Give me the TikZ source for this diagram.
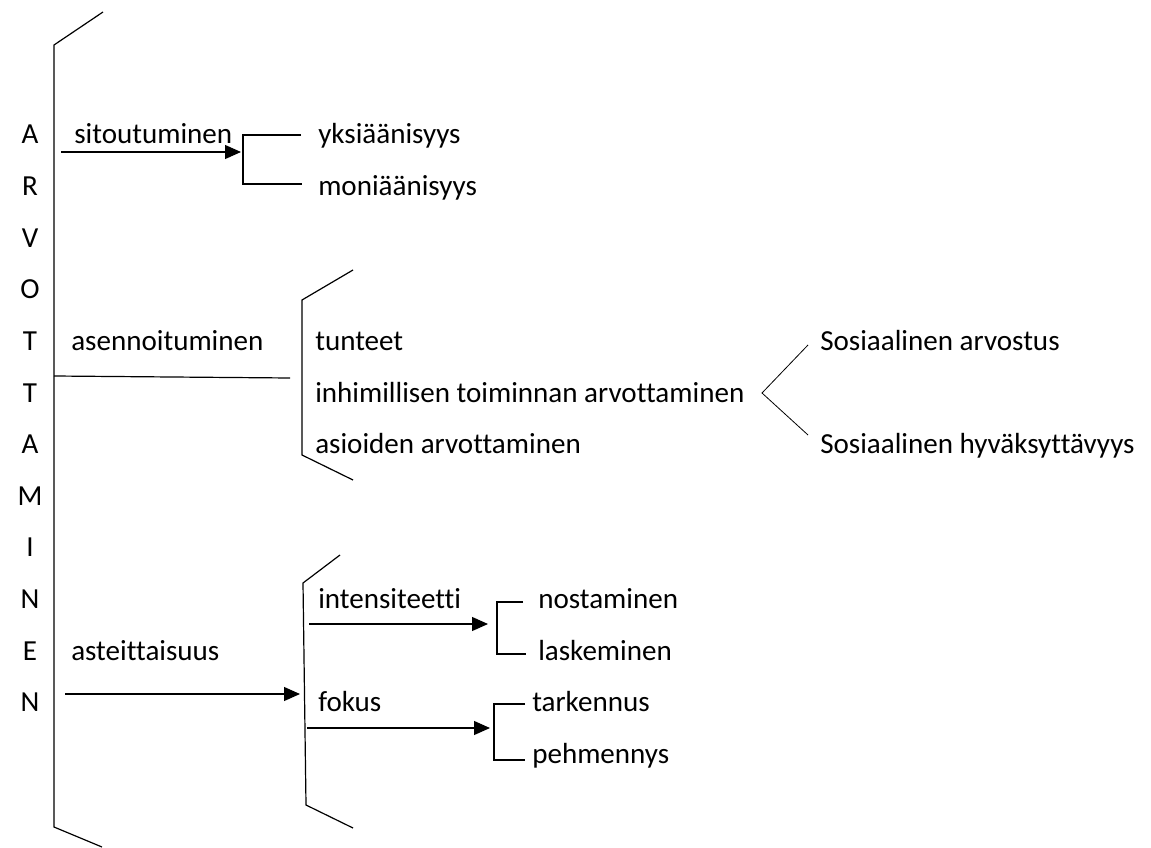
\documentclass[tikz,border=0pt]{standalone}
\usepackage{fontspec}
\setmainfont{Carlito}[Ligatures={NoCommon}]
\usetikzlibrary{arrows.meta}
\begin{document}
\begin{tikzpicture}[x=0.75pt,y=-0.75pt,
  lbl/.style={anchor=base west, inner sep=0pt, font=\fontsize{21.8pt}{26pt}\selectfont},
  letter/.style={anchor=base, inner sep=0pt, font=\fontsize{21.8pt}{26pt}\selectfont},
  ln/.style={line width=0.9pt},
  arr/.style={line width=0.9pt, -{Triangle[length=12pt,width=10.5pt]}}]
\useasboundingbox (0,0) rectangle (1151,848);
% letters column
\foreach \L [count=\i from 0] in {A,R,V,O,T,T,A,M,I,N,E,N}
  \node[letter] (L\i) at (30,{144+51.6*\i}) {\L};
% main bracket
\coordinate (mT) at (54,45);
\coordinate (mB) at (54,827);
\coordinate (mTs) at (103,12);
\coordinate (mBs) at (102,847);
\draw[ln] (mTs) -- (mT) -- (mB) -- (mBs);
% level 1 labels
\node[lbl] (sit) at (74,144) {sitoutuminen};
\node[lbl] (ase) at (71,350.4) {asennoituminen};
\node[lbl] (ast) at (71,660) {asteittaisuus};
% sitoutuminen branch
\coordinate (a1s) at (61,152);
\coordinate (a1e) at (241,152);
\draw[arr] (a1s) -- (a1e);
\coordinate (b1a) at (301,135);
\coordinate (b1b) at (243,135);
\coordinate (b1c) at (243,184);
\coordinate (b1d) at (302,184);
\draw[ln] (b1a) -- (b1b) -- (b1c) -- (b1d);
\node[lbl] (yks) at (318,144) {yksiäänisyys};
\node[lbl] (mon) at (318,195.6) {moniäänisyys};
% asennoituminen branch
\coordinate (l2s) at (54,376);
\coordinate (l2e) at (290,378);
\draw[ln] (l2s) -- (l2e);
\coordinate (b2ts) at (353,270);
\coordinate (b2t) at (302,300);
\coordinate (b2b) at (302,455);
\coordinate (b2bs) at (353,480);
\draw[ln] (b2ts) -- (b2t) -- (b2b) -- (b2bs);
\node[lbl] (tun) at (315,350.4) {tunteet};
\node[lbl] (inh) at (315,402) {inhimillisen toiminnan arvottaminen};
\node[lbl] (asi) at (315,453.6) {asioiden arvottaminen};
\coordinate (v1) at (808,345);
\coordinate (v0) at (762,393);
\coordinate (v2) at (808,435);
\draw[line width=0.6pt] (v1) -- (v0) -- (v2);
\node[lbl] (sar) at (820,350.4) {Sosiaalinen arvostus};
\node[lbl] (shy) at (820,453.6) {Sosiaalinen hyväksyttävyys};
% asteittaisuus branch
\coordinate (a3s) at (65,694);
\coordinate (a3e) at (300,694);
\draw[arr] (a3s) -- (a3e);
\coordinate (b3ts) at (340,555);
\coordinate (b3t) at (303,583);
\coordinate (b3b) at (306,805);
\coordinate (b3bs) at (353,828);
\draw[ln] (b3ts) -- (b3t) -- (b3b) -- (b3bs);
\node[lbl] (int) at (318,608.4) {intensiteetti};
\node[lbl] (fok) at (318,711.6) {fokus};
\coordinate (a4s) at (309,624);
\coordinate (a4e) at (488,624);
\draw[arr] (a4s) -- (a4e);
\coordinate (b4a) at (523,602);
\coordinate (b4b) at (497,602);
\coordinate (b4c) at (497,654);
\coordinate (b4d) at (526,654);
\draw[ln] (b4a) -- (b4b) -- (b4c) -- (b4d);
\node[lbl] (nos) at (538,608.4) {nostaminen};
\node[lbl] (las) at (538,660) {laskeminen};
\coordinate (a5s) at (307,728);
\coordinate (a5e) at (490,728);
\draw[arr] (a5s) -- (a5e);
\coordinate (b5a) at (525,704);
\coordinate (b5b) at (494,704);
\coordinate (b5c) at (494,760);
\coordinate (b5d) at (525,760);
\draw[ln] (b5a) -- (b5b) -- (b5c) -- (b5d);
\node[lbl] (tar) at (532,711.6) {tarkennus};
\node[lbl] (peh) at (532,763.2) {pehmennys};
\end{tikzpicture}
\end{document}
